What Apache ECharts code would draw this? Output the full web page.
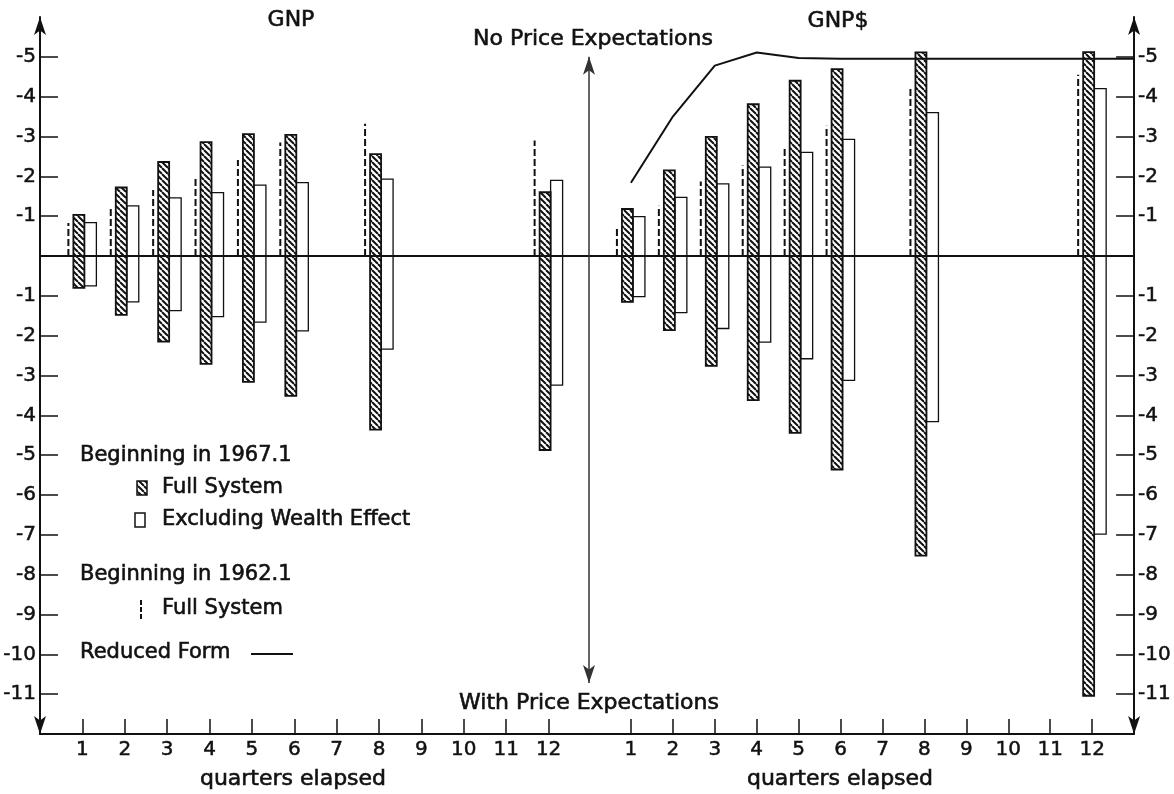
<!DOCTYPE html>
<html><head><meta charset="utf-8">
<script src="https://cdn.jsdelivr.net/npm/echarts@6/dist/echarts.min.js"></script>
<style>html,body{margin:0;padding:0;background:#fff}#chart{width:1174px;height:794px}</style>
</head><body><div id="chart"></div>
<script>
// ---- data ----
const quarters = [1, 2, 3, 4, 5, 6, 8, 12];
const xTickValues = [1, 2, 3, 4, 5, 6, 7, 8, 9, 10, 11, 12];
const yTickValues = [5, 4, 3, 2, 1, -1, -2, -3, -4, -5, -6, -7, -8, -9, -10, -11];

// GNP (left panel): up = no price expectations, down = with price expectations
const gnpFull67Up   = [1.03, 1.72, 2.36, 2.86, 3.06, 3.04, 2.56, 1.60];
const gnpFull67Down = [-0.80, -1.48, -2.15, -2.71, -3.16, -3.51, -4.36, -4.87];
const gnpExcl67Up   = [0.84, 1.26, 1.46, 1.59, 1.78, 1.84, 1.93, 1.90];
const gnpExcl67Down = [-0.75, -1.15, -1.37, -1.52, -1.66, -1.88, -2.34, -3.24];
const gnpFull62Up   = [0.83, 1.24, 1.66, 1.99, 2.41, 2.85, 3.32, 2.90];

// GNP$ (right panel)
const gnpdFull67Up   = [1.18, 2.15, 2.99, 3.81, 4.40, 4.69, 5.11, 5.12];
const gnpdFull67Down = [-1.15, -1.86, -2.76, -3.62, -4.44, -5.36, -7.52, -11.04];
const gnpdExcl67Up   = [0.99, 1.47, 1.81, 2.23, 2.60, 2.93, 3.60, 4.20];
const gnpdExcl67Down = [-1.02, -1.42, -1.82, -2.16, -2.58, -3.12, -4.16, -6.98];
const gnpdFull62Up   = [0.75, 1.26, 1.87, 2.27, 2.75, 3.27, 4.23, 4.55];

const reducedQuarters = [1, 2, 3, 4, 5, 6, 8, 12, 13];
const reducedGnpd     = [1.84, 3.50, 4.78, 5.11, 4.97, 4.95, 4.95, 4.95, 4.95];

// divider arrow between the two regimes (value range on the y scale)
const dividerRange = [5.0, -10.72];

// ---- styling helpers ----
const INK = '#111';
const FONT = '"DejaVu Sans", sans-serif';

function makeHatch() {
  const s = 6;
  const c = document.createElement('canvas');
  c.width = s; c.height = s;
  const g = c.getContext('2d');
  g.fillStyle = '#fff'; g.fillRect(0, 0, s, s);
  g.strokeStyle = INK; g.lineWidth = 2;
  for (const k of [-1, 0, 1]) {
    g.beginPath(); g.moveTo(k * s, 0); g.lineTo(k * s + s, s); g.stroke();
  }
  return c;
}
const hatchFill = { image: makeHatch(), repeat: 'repeat' };

function rangeData(down, up) { return quarters.map((q, i) => [q, down[i], up[i]]); }
function upData(up) { return quarters.map((q, i) => [q, 0, up[i]]); }

function barRenderer(offset, width, fill, lw) {
  return function (params, api) {
    const q = api.value(0);
    const top = api.coord([q, api.value(2)]);
    const bot = api.coord([q, api.value(1)]);
    return {
      type: 'rect',
      shape: { x: top[0] + offset, y: top[1], width: width, height: bot[1] - top[1] },
      style: { fill: fill, stroke: INK, lineWidth: lw }
    };
  };
}
function dashRenderer(offset) {
  return function (params, api) {
    const q = api.value(0);
    const a = api.coord([q, api.value(1)]);
    const b = api.coord([q, api.value(2)]);
    return {
      type: 'line',
      shape: { x1: a[0] + offset, y1: a[1], x2: b[0] + offset, y2: b[1] },
      style: { stroke: INK, lineWidth: 2, lineDash: [7, 3] }
    };
  };
}

const labelStyle = { fontFamily: FONT, fontSize: 20, color: INK, textBorderColor: INK, textBorderWidth: 0.5 };

function xAxisFor(gi) {
  return {
    gridIndex: gi, type: 'value', min: 0, max: 13, interval: 1,
    axisLine: { show: true, onZero: false, lineStyle: { color: INK, width: 2 } },
    axisTick: { show: true, inside: true, length: 15, customValues: xTickValues, lineStyle: { color: INK, width: 1.5 } },
    axisLabel: Object.assign({ show: true, customValues: xTickValues, margin: 6,
      formatter: v => (v >= 1 && v <= 12) ? String(v) : '' }, labelStyle),
    splitLine: { show: false }
  };
}
function yAxisFor(gi, pos) {
  return {
    gridIndex: gi, type: 'value', min: -12, max: 6, interval: 1, position: pos,
    axisLine: { show: true, onZero: false, symbol: ['arrow', 'arrow'], symbolSize: [9, 18],
      lineStyle: { color: INK, width: 2 } },
    axisTick: { show: true, inside: true, length: 18, customValues: yTickValues, lineStyle: { color: INK, width: 1.5 } },
    axisLabel: Object.assign({ show: true, customValues: yTickValues, margin: 4,
      formatter: v => (v === 0 || v >= 6 || v <= -12) ? '' : '-' + Math.abs(v) }, labelStyle),
    splitLine: { show: false }
  };
}

const baseLine = {
  silent: true, symbol: ['none', 'none'], label: { show: false },
  lineStyle: { color: INK, width: 2, type: 'solid' },
  data: [{ yAxis: 0 }]
};

function panelSeries(gi, full62, exclDown, exclUp, fullDown, fullUp) {
  return [
    { type: 'custom', xAxisIndex: gi, yAxisIndex: gi, data: upData(full62),
      renderItem: dashRenderer(-14), encode: { x: 0, y: [1, 2] }, silent: true, z: 3 },
    { type: 'custom', xAxisIndex: gi, yAxisIndex: gi, data: rangeData(exclDown, exclUp),
      renderItem: barRenderer(2, 12, '#fff', 1.3), encode: { x: 0, y: [1, 2] }, silent: true, z: 3,
      markLine: baseLine },
    { type: 'custom', xAxisIndex: gi, yAxisIndex: gi, data: rangeData(fullDown, fullUp),
      renderItem: barRenderer(-9, 11, hatchFill, 1.8), encode: { x: 0, y: [1, 2] }, silent: true, z: 4 }
  ];
}

function txt(x, y, text, size, align) {
  return { type: 'text', x: x, y: y, silent: true,
    style: { text: text, font: size + 'px ' + FONT, fill: INK, stroke: INK, lineWidth: 0.6,
      align: align || 'center', verticalAlign: 'middle',
      textAlign: align || 'center', textVerticalAlign: 'middle' } };
}

const chart = echarts.init(document.getElementById('chart'), null, { renderer: 'canvas' });
chart.setOption({
  animation: false,
  backgroundColor: '#fff',
  grid: [
    { left: 40, top: 17, width: 551, height: 717 },
    { left: 589, top: 17, width: 549, height: 717 }
  ],
  xAxis: [xAxisFor(0), xAxisFor(1)],
  yAxis: [yAxisFor(0, 'left'), yAxisFor(1, 'right')],
  series: [
    ...panelSeries(0, gnpFull62Up, gnpExcl67Down, gnpExcl67Up, gnpFull67Down, gnpFull67Up),
    ...panelSeries(1, gnpdFull62Up, gnpdExcl67Down, gnpdExcl67Up, gnpdFull67Down, gnpdFull67Up),
    { type: 'line', xAxisIndex: 1, yAxisIndex: 1, z: 5,
      data: reducedQuarters.map((q, i) => [q, reducedGnpd[i]]),
      symbol: 'none', lineStyle: { color: INK, width: 2 }, silent: true,
      markLine: {
        silent: true, symbol: ['arrow', 'arrow'], symbolSize: [9, 18], label: { show: false },
        lineStyle: { color: '#333', width: 1.5, type: 'solid' },
        itemStyle: { color: '#333' },
        data: [[{ coord: [0, dividerRange[0]] }, { coord: [0, dividerRange[1]] }]]
      }
    }
  ],
  graphic: [
    txt(291, 20, 'GNP', 22),
    txt(838, 21, 'GNP$', 22),
    txt(593, 39, 'No Price Expectations', 22),
    txt(589, 703, 'With Price Expectations', 22),
    txt(293, 779, 'quarters elapsed', 22),
    txt(840, 779, 'quarters elapsed', 22),
    txt(80, 456, 'Beginning in 1967.1', 21, 'left'),
    { type: 'rect', silent: true, shape: { x: 137, y: 481, width: 10, height: 14 },
      style: { fill: hatchFill, stroke: INK, lineWidth: 1.5 } },
    txt(162, 488, 'Full System', 21, 'left'),
    { type: 'rect', silent: true, shape: { x: 135, y: 513, width: 10, height: 14 },
      style: { fill: '#fff', stroke: INK, lineWidth: 1.5 } },
    txt(162, 520, 'Excluding Wealth Effect', 21, 'left'),
    txt(80, 575, 'Beginning in 1962.1', 21, 'left'),
    { type: 'line', silent: true, shape: { x1: 141, y1: 600, x2: 141, y2: 619 },
      style: { stroke: INK, lineWidth: 2, lineDash: [5, 2] } },
    txt(162, 609, 'Full System', 21, 'left'),
    txt(80, 653, 'Reduced Form', 21, 'left'),
    { type: 'line', silent: true, shape: { x1: 251, y1: 654, x2: 293, y2: 654 },
      style: { stroke: INK, lineWidth: 2 } }
  ]
});
</script></body></html>
